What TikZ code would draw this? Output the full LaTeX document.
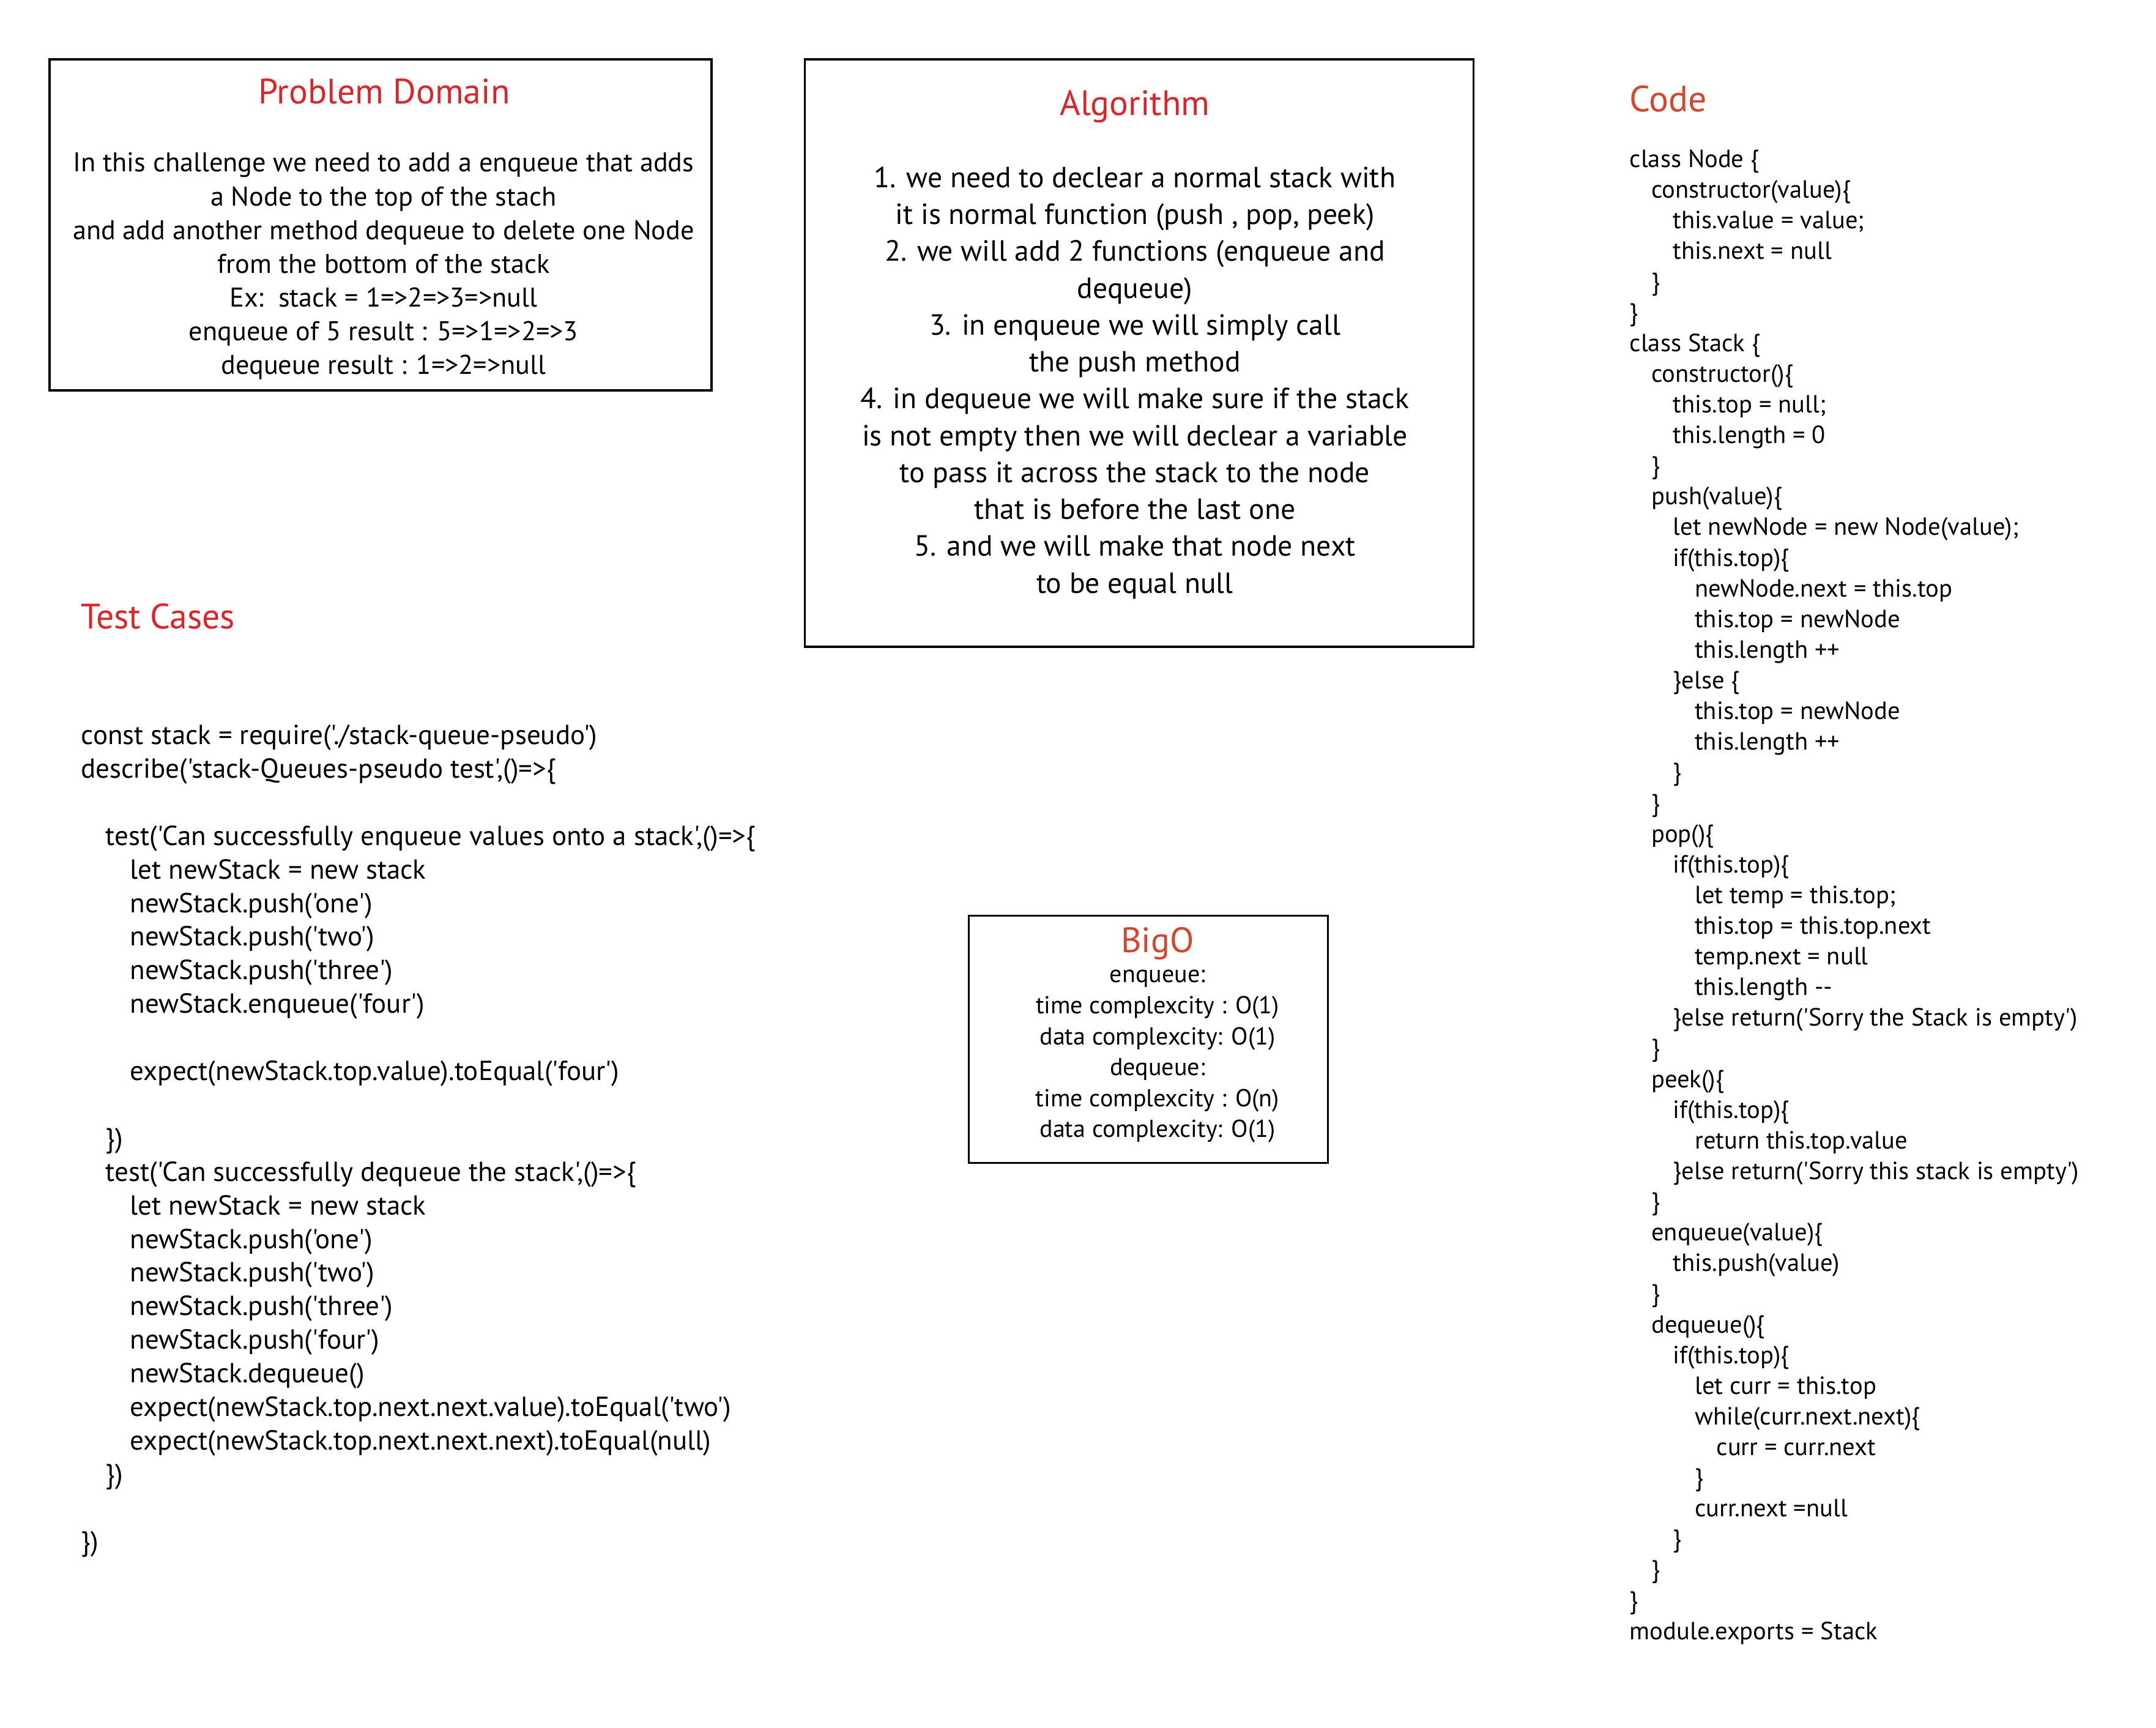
\documentclass[tikz,border=0pt]{standalone}
\usepackage{fontspec}
\newfontfamily\myriad{PT Sans}
\usetikzlibrary{positioning}
\definecolor{headred}{RGB}{218,37,41}
\definecolor{codered}{RGB}{210,72,46}
\newcommand{\tb}{\hspace*{3.55mm}}
\newcommand{\ts}{\hspace*{4mm}}

\tikzset{
  box/.style={draw=black, line width=0.9pt, inner sep=0pt},
  head/.style={text=headred, font=\myriad\fontsize{16.4}{19.6}\selectfont, inner sep=0pt},
  body/.style={align=center, inner sep=0pt},
  listing/.style={align=left, inner sep=0pt, anchor=west},
}

\begin{document}
\begin{tikzpicture}
\useasboundingbox (0,0) rectangle (35.24,-28.24);
% problem domain
\node[box, minimum width=10.82cm, minimum height=5.41cm] (pdbox) at (6.22,-3.675) {};
\node[head] (pdhead) at (6.28,-1.49) {Problem Domain};
\node[body, font=\myriad\fontsize{12.6}{15.68}\selectfont] (pdtext) at (6.27,-4.35) {In this challenge we need to add a enqueue that adds\\
a Node to the top of the stach\\
and add another method dequeue to delete one Node\\
from the bottom of the stack\\
Ex:\ \ stack = 1=>2=>3=>null\\
enqueue of 5 result : 5=>1=>2=>3\\
dequeue result : 1=>2=>null};
% algorithm
\node[box, minimum width=10.93cm, minimum height=9.60cm] (algbox) at (18.62,-5.77) {};
\node[head] (alghead) at (18.55,-1.745) {Algorithm};
\node[body, font=\myriad\fontsize{13.56}{17.15}\selectfont] (algtext) at (18.55,-6.255) {1. we need to declear a normal stack with\\
it is normal function (push , pop, peek)\\
2. we will add 2 functions (enqueue and\\
dequeue)\\
3. in enqueue we will simply call\\
the push method\\
4. in dequeue we will make sure if the stack\\
is not empty then we will declear a variable\\
to pass it across the stack to the node\\
that is before the last one\\
5. and we will make that node next\\
to be equal null};
% code
\node[head, text=codered, anchor=west, font=\myriad\fontsize{17}{20}\selectfont] (codehead) at (26.63,-1.62) {Code};
\node[listing, font=\myriad\fontsize{11.55}{14.26}\selectfont] (codetext) at (26.63,-14.66) {class Node \{\\
\tb constructor(value)\{\\
\tb\tb this.value = value;\\
\tb\tb this.next = null\\
\tb \}\\
\}\\
class Stack \{\\
\tb constructor()\{\\
\tb\tb this.top = null;\\
\tb\tb this.length = 0\\
\tb \}\\
\tb push(value)\{\\
\tb\tb let newNode = new Node(value);\\
\tb\tb if(this.top)\{\\
\tb\tb\tb newNode.next = this.top\\
\tb\tb\tb this.top = newNode\\
\tb\tb\tb this.length ++\\
\tb\tb \}else \{\\
\tb\tb\tb this.top = newNode\\
\tb\tb\tb this.length ++\\
\tb\tb \}\\
\tb \}\\
\tb pop()\{\\
\tb\tb if(this.top)\{\\
\tb\tb\tb let temp = this.top;\\
\tb\tb\tb this.top = this.top.next\\
\tb\tb\tb temp.next = null\\
\tb\tb\tb this.length --\\
\tb\tb \}else return('Sorry the Stack is empty')\\
\tb \}\\
\tb peek()\{\\
\tb\tb if(this.top)\{\\
\tb\tb\tb return this.top.value\\
\tb\tb \}else return('Sorry this stack is empty')\\
\tb \}\\
\tb enqueue(value)\{\\
\tb\tb this.push(value)\\
\tb \}\\
\tb dequeue()\{\\
\tb\tb if(this.top)\{\\
\tb\tb\tb let curr = this.top\\
\tb\tb\tb while(curr.next.next)\{\\
\tb\tb\tb\tb curr = curr.next\\
\tb\tb\tb \}\\
\tb\tb\tb curr.next =null\\
\tb\tb \}\\
\tb \}\\
\}\\
module.exports = Stack};
% test cases
\node[head, anchor=west] (testhead) at (1.32,-10.07) {Test Cases};
\node[listing, font=\myriad\fontsize{12.8}{15.62}\selectfont] (testtext) at (1.32,-18.645) {const stack = require('./stack-queue-pseudo')\\
describe('stack-Queues-pseudo test',()=>\{\\
\mbox{}\\
\ts test('Can successfully enqueue values onto a stack',()=>\{\\
\ts\ts let newStack = new stack\\
\ts\ts newStack.push('one')\\
\ts\ts newStack.push('two')\\
\ts\ts newStack.push('three')\\
\ts\ts newStack.enqueue('four')\\
\mbox{}\\
\ts\ts expect(newStack.top.value).toEqual('four')\\
\mbox{}\\
\ts \})\\
\ts test('Can successfully dequeue the stack',()=>\{\\
\ts\ts let newStack = new stack\\
\ts\ts newStack.push('one')\\
\ts\ts newStack.push('two')\\
\ts\ts newStack.push('three')\\
\ts\ts newStack.push('four')\\
\ts\ts newStack.dequeue()\\
\ts\ts expect(newStack.top.next.next.value).toEqual('two')\\
\ts\ts expect(newStack.top.next.next.next).toEqual(null)\\
\ts \})\\
\mbox{}\\
\})};
% big o
\node[box, minimum width=5.875cm, minimum height=4.04cm] (bigbox) at (18.77,-16.985) {};
\node[head, text=codered] (bighead) at (18.92,-15.42) {BigO};
\node[body, font=\myriad\fontsize{11.4}{14.4}\selectfont] (bigtext) at (18.92,-17.265) {enqueue:\\
time complexcity : O(1)\\
data complexcity: O(1)\\
dequeue:\\
time complexcity : O(n)\\
data complexcity: O(1)};
\end{tikzpicture}
\end{document}
